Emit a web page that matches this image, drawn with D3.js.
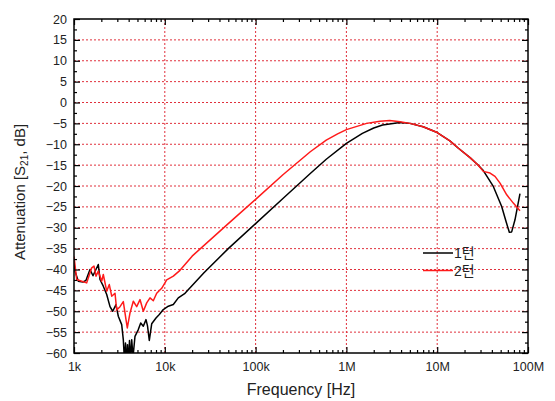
<!DOCTYPE html>
<html lang="ko">
  <head>
    <meta charset="utf-8">
    <title>Attenuation S21</title>
    <script src="https://d3js.org/d3.v7.min.js"></script>
    <style>
      body { margin: 0; background: #fff; }
      text { font-family: "Liberation Sans", Arial, "Noto Sans CJK KR", sans-serif; }
    </style>
  </head>
  <body>
    <svg id="chart"></svg>
    <script type="text/javascript">
      // 1) data (frequency in Hz, attenuation in dB)
      let freq1 = [1000, 1026, 1115, 1256, 1356, 1500, 1619, 1852, 1933, 2102, 2292, 2492, 2669, 2901, 3075, 3352, 3491,
                   3599, 3691, 3805, 3883, 3982, 4085, 4191, 4320, 4464, 4696, 5107, 5428, 5798, 6208, 6449, 6750, 7172,
                   8000, 8699, 9627, 10930, 12410, 14080, 16690, 27000, 50000, 100000, 200000, 400000, 600000, 1000000,
                   1500000, 2000000, 2500000, 3900000, 5000000, 7000000, 10000000, 13800000, 17000000, 23000000,
                   28000000, 32200000, 41500000, 51300000, 57300000, 62300000, 66100000, 71900000, 81600000];
      let turn1 = [-38.5, -40.4, -42.8, -43.0, -42.6, -40.0, -41.5, -38.8, -42.4, -44.0, -46.0, -48.9, -50.0, -48.4, -51.2, -53.2, -56.8,
                   -62, -57.6, -63, -58, -63, -57, -62, -56.8, -61, -56.0, -54.4, -52.8, -53.6, -52.0, -53.5, -57.0, -53.0,
                   -51.6, -50.8, -49.6, -48.8, -48.4, -46.8, -45.7, -40.8, -35.0, -29.0, -23.0, -17.0, -13.6, -9.8,
                   -7.4, -6.1, -5.4, -4.8, -5.0, -5.8, -7.2, -9.2, -10.9, -13.2,
                   -14.9, -16.3, -20.1, -24.9, -28.5, -31.1, -31.0, -28.1, -21.8];

      let freq2 = [1000, 1071, 1216, 1380, 1566, 1661, 1747, 1852, 2019, 2102, 2292, 2448, 2602, 2829, 2953, 3211, 3491,
                   3739, 3864, 4138, 4499, 4903, 5333, 5798, 6319, 6871, 7470, 8142, 9245, 10494, 12406, 14705,
                   20000, 50000, 100000, 200000, 400000, 600000, 800000, 1000000, 1670000, 2340000, 3000000, 3900000,
                   5000000, 7000000, 10000000, 13800000, 17000000, 23000000, 28000000, 32200000, 38200000, 43300000,
                   49200000, 58300000, 68900000, 81600000];
      let turn2 = [-36.9, -42.4, -42.8, -43.2, -39.6, -39.2, -41.6, -40.4, -42.8, -41.2, -45.2, -43.6, -46.4, -45.7, -49.7, -48.9, -47.7,
                   -52.0, -54.0, -50.4, -47.6, -48.9, -47.2, -50.0, -48.0, -46.8, -47.5, -45.7, -44.5, -42.5, -41.6, -40.2,
                   -36.8, -29.0, -23.2, -17.3, -11.8, -9.0, -7.5, -6.5, -5.0, -4.5, -4.3, -4.6,
                   -5.0, -5.8, -7.2, -9.2, -10.9, -13.2, -14.9, -16.5, -16.9, -17.7,
                   -19.3, -22.1, -24.1, -25.9];

      let seriesNames = ["1턴", "2턴"];
      let xTicks = [1e3, 1e4, 1e5, 1e6, 1e7, 1e8];
      let xTickLabels = ["1k", "10k", "100k", "1M", "10M", "100M"];
      let yTicks = [20, 15, 10, 5, 0, -5, -10, -15, -20, -25, -30, -35, -40, -45, -50, -55, -60];

      // 2) sizes
      let svgWidth = 555, svgHeight = 401;
      let plotLeft = 74, plotRight = 528, plotTop = 19, plotBottom = 353;

      let svg = d3.select("#chart")
                  .attr("width", svgWidth)
                  .attr("height", svgHeight);

      // 3) scales
      let xScale = d3.scaleLog().domain([1e3, 1e8]).range([plotLeft, plotRight]);
      let yScale = d3.scaleLinear().domain([-60, 20]).range([plotBottom, plotTop]);

      // minor ticks: 2..9 of every decade, and every 2.5 dB
      let xMinor = xScale.ticks().filter(d => xTicks.indexOf(d) < 0);
      let yMinor = d3.range(-57.5, 20, 5);

      // 4) dotted grid
      let grid = svg.append("g").attr("stroke", "#e0303c").attr("stroke-width", 1)
                    .attr("stroke-dasharray", "2,2");
      grid.selectAll("line.v")
          .data(xTicks.slice(1, -1))
          .enter().append("line")
          .attr("x1", d => xScale(d)).attr("x2", d => xScale(d))
          .attr("y1", plotTop).attr("y2", plotBottom);
      grid.selectAll("line.h")
          .data(yTicks.slice(1, -1))
          .enter().append("line")
          .attr("x1", plotLeft).attr("x2", plotRight)
          .attr("y1", d => yScale(d)).attr("y2", d => yScale(d));

      // 5) lines
      svg.append("clipPath").attr("id", "plot")
         .append("rect").attr("x", plotLeft).attr("y", plotTop)
         .attr("width", plotRight - plotLeft).attr("height", plotBottom - plotTop);

      let line = d3.line()
                   .x(d => xScale(d[0]))
                   .y(d => yScale(d[1]));

      let lines = [d3.zip(freq1, turn1), d3.zip(freq2, turn2)];
      let colors = ["#000000", "#ff1a1a"];

      svg.append("g").attr("clip-path", "url(#plot)")
         .selectAll("path")
         .data(lines)
         .enter().append("path")
         .attr("d", line)
         .attr("fill", "none")
         .attr("stroke", (d, i) => colors[i])
         .attr("stroke-width", 1.5)
         .attr("stroke-linejoin", "round");

      // 6) axes, ticks pointing in
      function styleAxis(g) {
        g.select(".domain").remove();
        g.selectAll("line").attr("stroke", "#000").attr("stroke-width", 1.2);
        g.selectAll("text").attr("fill", "#222").style("font-size", "12.5px");
      }

      svg.append("g").attr("transform", "translate(0," + plotBottom + ")")
         .call(d3.axisBottom(xScale).tickValues(xTicks).tickSize(-6).tickPadding(9)
               .tickFormat((d, i) => xTickLabels[i]))
         .call(styleAxis);
      svg.append("g").attr("transform", "translate(0," + plotBottom + ")")
         .call(d3.axisBottom(xScale).tickValues(xMinor).tickSize(-3).tickFormat(""))
         .call(styleAxis);
      svg.append("g").attr("transform", "translate(0," + plotTop + ")")
         .call(d3.axisTop(xScale).tickValues(xTicks).tickSize(-6).tickFormat(""))
         .call(styleAxis);
      svg.append("g").attr("transform", "translate(0," + plotTop + ")")
         .call(d3.axisTop(xScale).tickValues(xMinor).tickSize(-3).tickFormat(""))
         .call(styleAxis);

      svg.append("g").attr("transform", "translate(" + plotLeft + ",0)")
         .call(d3.axisLeft(yScale).tickValues(yTicks).tickSize(-6).tickPadding(7))
         .call(styleAxis);
      svg.append("g").attr("transform", "translate(" + plotLeft + ",0)")
         .call(d3.axisLeft(yScale).tickValues(yMinor).tickSize(-3).tickFormat(""))
         .call(styleAxis);
      svg.append("g").attr("transform", "translate(" + plotRight + ",0)")
         .call(d3.axisRight(yScale).tickValues(yTicks).tickSize(-6).tickFormat(""))
         .call(styleAxis);
      svg.append("g").attr("transform", "translate(" + plotRight + ",0)")
         .call(d3.axisRight(yScale).tickValues(yMinor).tickSize(-3).tickFormat(""))
         .call(styleAxis);

      // frame
      svg.append("rect")
         .attr("x", plotLeft).attr("y", plotTop)
         .attr("width", plotRight - plotLeft).attr("height", plotBottom - plotTop)
         .attr("fill", "none").attr("stroke", "#000").attr("stroke-width", 1.5);

      // 7) axis titles
      svg.append("text")
         .attr("x", 301).attr("y", 395)
         .attr("text-anchor", "middle")
         .attr("fill", "#222")
         .style("font-size", "16px")
         .text("Frequency [Hz]");

      let yTitle = svg.append("text")
         .attr("transform", "translate(25,192) rotate(-90)")
         .attr("text-anchor", "middle")
         .attr("fill", "#222")
         .style("font-size", "15px");
      yTitle.append("tspan").text("Attenuation [S");
      yTitle.append("tspan").attr("dy", 3).style("font-size", "10px").text("21");
      yTitle.append("tspan").attr("dy", -3).text(", dB]");

      // 8) legend
      let legend = svg.append("g").selectAll("g")
                      .data(seriesNames)
                      .enter().append("g")
                      .attr("transform", (d, i) => "translate(423," + (253 + i * 17.5) + ")");
      legend.append("line")
            .attr("x1", 0).attr("x2", 30)
            .attr("stroke", (d, i) => colors[i])
            .attr("stroke-width", 1.5);
      legend.append("text")
            .attr("x", 31).attr("y", 5)
            .attr("fill", "#222")
            .style("font-size", "14px")
            .text(d => d);
    </script>
</body>
</html>
